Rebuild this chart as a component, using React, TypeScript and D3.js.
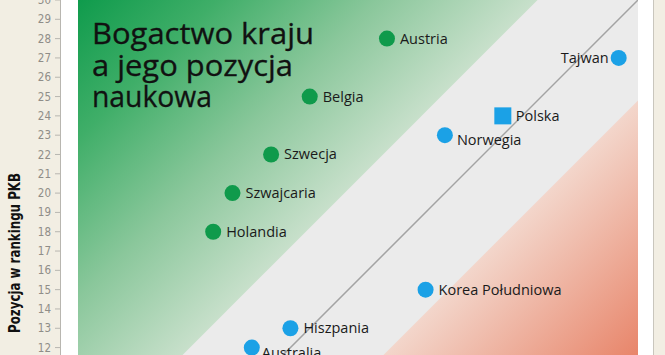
import React from "react";
import * as d3 from "d3";

const countries = ["Austria", "Tajwan", "Belgia", "Polska", "Norwegia", "Szwecja", "Szwajcaria", "Holandia", "Korea Południowa", "Hiszpania", "Australia"];
const scienceRank = [17, 29, 13, 23, 20, 11, 9, 8, 19, 12, 10];
const gdpRank = [28, 27, 25, 24, 23, 22, 20, 18, 15, 13, 12];
const groups = ["richer", "balanced", "richer", "poland", "balanced", "richer", "richer", "richer", "balanced", "balanced", "balanced"];
const yTicks = [12, 13, 14, 15, 16, 17, 18, 19, 20, 21, 22, 23, 24, 25, 26, 27, 28, 29, 30];
const titleLines = ["Bogactwo kraju", "a jego pozycja", "naukowa"];
const yAxisTitle = "Pozycja w rankingu PKB";
const bandWidth = 5.2;

const W = 665;
const H = 355;

// label placement (style)
const labelPos: Record<string, { dx: number; dy: number; anchor: string }> = {
  Tajwan: { dx: -10, dy: 5, anchor: "end" },
  Norwegia: { dx: 12, dy: 10, anchor: "start" },
  Australia: { dx: 10, dy: 10, anchor: "start" },
  Polska: { dx: 13, dy: 5, anchor: "start" },
};

export default function App() {
  const x = d3.scaleLinear().domain([1, 30]).range([78, 638]);
  const y = d3.scaleLinear().domain([30, 1]).range([0, 560]);
  const x0 = x(1), x1 = x(30), y0 = y(30), y1 = y(1);

  const poly = (pts: [number, number][]) =>
    d3.line<[number, number]>().x((p) => x(p[0])).y((p) => y(p[1]))(pts) + "Z";

  const greenPts: [number, number][] = [[1, 1 + bandWidth], [1, 30], [30 - bandWidth, 30]];
  const redPts: [number, number][] = [[1 + bandWidth, 1], [30, 1], [30, 30 - bandWidth]];

  // gradient geometry
  const cG = x(1) + y(1 + bandWidth);
  const tG = (cG - x0 - y0) / 2;
  const cR = x(1 + bandWidth) + y(1);
  const tR = (x1 + H - cR) / 2;

  const colorFor: Record<string, string> = { richer: "#0f9a4b", balanced: "#1ba1e6", poland: "#1ba1e6" };
  const labelFont = "'Open Sans', sans-serif";
  const condensed = "'Liberation Sans Narrow', 'DejaVu Sans Condensed', 'DejaVu Sans', sans-serif";

  return (
    <svg width={W} height={H} style={{ position: "absolute", left: 0, top: 0, display: "block" }}>
      <defs>
        <clipPath id="plotClip">
          <rect x={x0} y={y0} width={x1 - x0} height={y1 - y0} />
        </clipPath>
        <linearGradient id="gGreen" gradientUnits="userSpaceOnUse" x1={x0} y1={y0} x2={x0 + tG} y2={y0 + tG}>
          <stop offset="0" stopColor="#0f9b4c" />
          <stop offset="0.3" stopColor="#3fae68" />
          <stop offset="0.65" stopColor="#8ac79b" />
          <stop offset="1" stopColor="#c8e0cb" />
        </linearGradient>
        <linearGradient id="gRed" gradientUnits="userSpaceOnUse" x1={x1 - tR} y1={H - tR} x2={x1} y2={H}>
          <stop offset="0" stopColor="#f3d6cb" />
          <stop offset="1" stopColor="#e8856a" />
        </linearGradient>
      </defs>
      <rect x={0} y={0} width={W} height={H} fill="#f2eee3" />
      <rect x={60} y={0} width={593} height={H} fill="#ffffff" />
      <line x1={653.5} x2={653.5} y1={0} y2={H} stroke="#c9c6bd" strokeWidth={1} />
      <line x1={60.5} x2={60.5} y1={0} y2={H} stroke="#b8b6b0" strokeWidth={1} />

      {/* y axis ticks */}
      {yTicks.map((t) => (
        <g key={t}>
          <line x1={55} x2={60} y1={y(t)} y2={y(t)} stroke="#b8b6b0" strokeWidth={1} />
          <text x={51} y={y(t)} dy="0.35em" textAnchor="end" fontFamily={condensed} fontSize={11.5} fill="#8f8d88">
            {t}
          </text>
        </g>
      ))}
      <text
        transform={`translate(20, 253) rotate(-90)`}
        textAnchor="middle"
        fontFamily={condensed}
        fontWeight="bold"
        fontSize={15}
        fill="#111"
        textLength={160}
        lengthAdjust="spacingAndGlyphs"
      >
        {yAxisTitle}
      </text>

      {/* plot background */}
      <g clipPath="url(#plotClip)">
        <rect x={x0} y={y0} width={x1 - x0} height={y1 - y0} fill="#ebebeb" />
        <path d={poly(greenPts)} fill="url(#gGreen)" />
        <path d={poly(redPts)} fill="url(#gRed)" />
        <line x1={x(1)} y1={y(1)} x2={x(30)} y2={y(30)} stroke="#a3a3a3" strokeWidth={1.5} />
      </g>

      {/* title */}
      {titleLines.map((l, i) => (
        <text key={i} x={92} y={44 + i * 31.5} fontFamily={labelFont} fontSize={28.5} fill="#111"
          stroke="#111" strokeWidth={0.3}
          textLength={[222, 201, 120][i]} lengthAdjust="spacingAndGlyphs">
          {l}
        </text>
      ))}

      {/* points */}
      {countries.map((c, i) => {
        const cx = x(scienceRank[i]);
        const cy = y(gdpRank[i]);
        const g = groups[i];
        const lp = labelPos[c] || { dx: 13, dy: 5, anchor: "start" };
        return (
          <g key={c}>
            {g === "poland" ? (
              <rect x={cx - 8.5} y={cy - 8.5} width={17} height={17} fill={colorFor[g]} />
            ) : (
              <circle cx={cx} cy={cy} r={8} fill={colorFor[g]} />
            )}
            <text x={cx + lp.dx} y={cy + lp.dy} textAnchor={lp.anchor} fontFamily={labelFont} fontSize={14.5} fill="#1a1a1a">
              {c}
            </text>
          </g>
        );
      })}
    </svg>
  );
}
